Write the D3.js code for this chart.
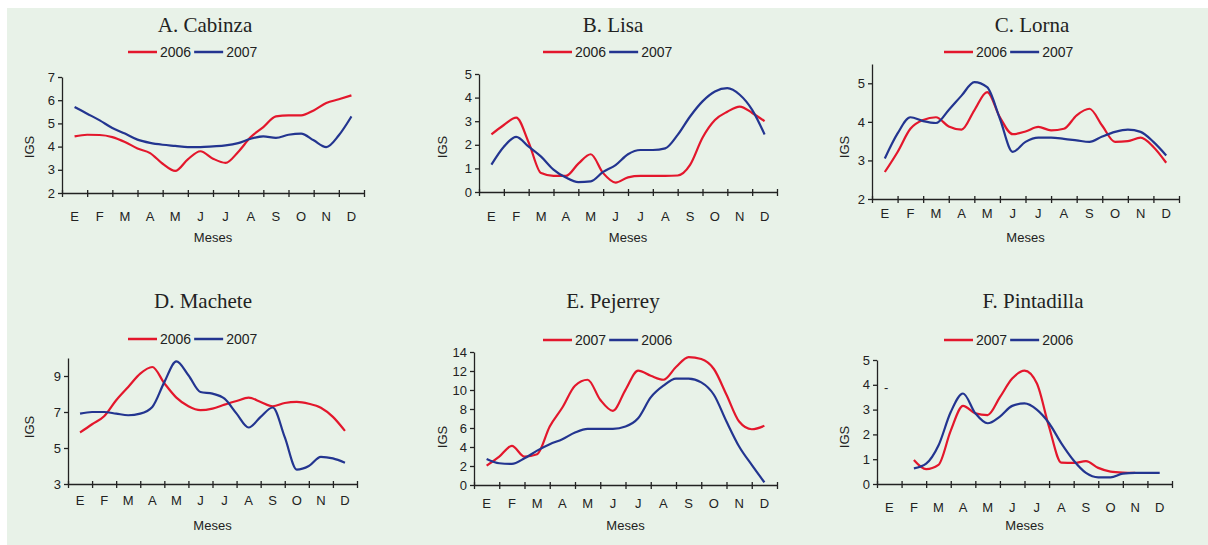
<!DOCTYPE html>
<html>
<head>
<meta charset="utf-8">
<title>IGS mensual por especie</title>
<script src="https://cdnjs.cloudflare.com/ajax/libs/d3/7.8.5/d3.min.js"></script>
<style>
  body { margin: 0; padding: 0; background: #fff; }
  svg { display: block; }
  .tick text { font-family: "Liberation Sans", Arial, sans-serif; font-size: 13px; fill: #222; }
  .domain, .tick line { stroke: #222; stroke-width: 1.3; }
  .ttl { font-family: "Liberation Serif", "DejaVu Serif", serif; font-size: 21px; fill: #222; }
  .lab { font-family: "Liberation Sans", Arial, sans-serif; font-size: 13px; fill: #222; }
  .leg { font-family: "Liberation Sans", Arial, sans-serif; font-size: 14px; fill: #222; }
</style>
</head>
<body>
<script>
// month labels (E..D), series sampled every half month
var months = ["E", "F", "M", "A", "M", "J", "J", "A", "S", "O", "N", "D"];

var cabinza2006 = [4.44, 4.51, 4.5, 4.41, 4.2, 3.92, 3.72, 3.26, 2.95, 3.45, 3.8, 3.48, 3.3, 3.77, 4.41, 4.84, 5.3, 5.35, 5.35, 5.56, 5.88, 6.04, 6.21];
var cabinza2007 = [5.71, 5.42, 5.13, 4.8, 4.56, 4.3, 4.16, 4.08, 4.03, 3.98, 3.98, 4.01, 4.05, 4.15, 4.34, 4.44, 4.38, 4.51, 4.56, 4.27, 3.98, 4.49, 5.3];

var lisa2006 = [2.44, 2.84, 3.15, 2.1, 0.8, 0.68, 0.68, 1.2, 1.6, 0.8, 0.4, 0.62, 0.68, 0.68, 0.68, 0.7, 1.15, 2.3, 3.05, 3.4, 3.62, 3.35, 3.0];
var lisa2007 = [1.16, 1.92, 2.34, 1.92, 1.5, 0.95, 0.61, 0.42, 0.45, 0.85, 1.14, 1.6, 1.78, 1.78, 1.85, 2.42, 3.2, 3.84, 4.26, 4.4, 4.12, 3.48, 2.44];

var lorna2006 = [2.7, 3.22, 3.82, 4.05, 4.12, 3.88, 3.8, 4.3, 4.77, 4.12, 3.68, 3.75, 3.87, 3.78, 3.82, 4.17, 4.34, 3.9, 3.48, 3.5, 3.59, 3.35, 2.94];
var lorna2007 = [3.05, 3.7, 4.12, 4.02, 3.97, 4.31, 4.68, 5.03, 4.9, 4.08, 3.22, 3.48, 3.59, 3.59, 3.56, 3.52, 3.48, 3.62, 3.74, 3.8, 3.74, 3.48, 3.13];

var machete2006 = [5.86, 6.32, 6.76, 7.65, 8.39, 9.13, 9.5, 8.6, 7.8, 7.32, 7.1, 7.19, 7.41, 7.61, 7.8, 7.56, 7.32, 7.5, 7.56, 7.46, 7.24, 6.73, 5.95];
var machete2007 = [6.91, 7.0, 7.0, 6.91, 6.82, 6.91, 7.28, 8.66, 9.81, 9.04, 8.11, 8.02, 7.74, 6.91, 6.14, 6.73, 7.25, 5.6, 3.8, 4.0, 4.51, 4.42, 4.18];

var pejerrey2007 = [2.04, 2.99, 4.12, 2.99, 3.24, 6.16, 8.16, 10.45, 11.08, 8.97, 7.81, 10.02, 12.03, 11.5, 11.08, 12.42, 13.47, 13.26, 12.21, 9.5, 6.68, 5.87, 6.23];
var pejerrey2006 = [2.74, 2.29, 2.22, 2.81, 3.62, 4.29, 4.82, 5.52, 5.91, 5.91, 5.91, 6.16, 7.03, 9.22, 10.45, 11.19, 11.19, 10.8, 9.5, 6.68, 4.05, 2.11, 0.28];

// Pintadilla starts in February (index 1)
var pintadilla2007 = [0.97, 0.6, 0.77, 2.15, 3.15, 2.85, 2.78, 3.5, 4.25, 4.57, 4.06, 2.3, 0.86, 0.85, 0.92, 0.65, 0.5, 0.46, 0.45];
var pintadilla2006 = [0.63, 0.82, 1.55, 2.9, 3.65, 2.85, 2.45, 2.72, 3.15, 3.25, 3.0, 2.45, 1.64, 0.95, 0.45, 0.27, 0.27, 0.42, 0.45, 0.45, 0.45];

var ticksA = [2, 3, 4, 5, 6, 7];
var ticksB = [0, 1, 2, 3, 4, 5];
var ticksC = [2, 3, 4, 5];
var ticksD = [3, 5, 7, 9];
var ticksE = [0, 2, 4, 6, 8, 10, 12, 14];
var ticksF = [0, 1, 2, 3, 4, 5];

var RED = "#e3172c", BLUE = "#233590";

var panels = [
  { title: "A. Cabinza", yDom: [2, 7], yTicks: ticksA,
    series: [{ label: "2006", color: RED, vals: cabinza2006, start: 0 }, { label: "2007", color: BLUE, vals: cabinza2007, start: 0 }],
    left: 62, right: 364, top: 77, bottom: 193, labY: 221, mesY: 242, igsX: 34, igsY: 147, titleX: 205, titleY: 32, legX: 128, legY: 52 },
  { title: "B. Lisa", yDom: [0, 5], yTicks: ticksB,
    series: [{ label: "2006", color: RED, vals: lisa2006, start: 0 }, { label: "2007", color: BLUE, vals: lisa2007, start: 0 }],
    left: 479, right: 777, top: 74, bottom: 192, labY: 221, mesY: 242, igsX: 447, igsY: 147, titleX: 613, titleY: 32, legX: 543, legY: 52 },
  { title: "C. Lorna", yDom: [2, 5.5], yTicks: ticksC,
    series: [{ label: "2006", color: RED, vals: lorna2006, start: 0 }, { label: "2007", color: BLUE, vals: lorna2007, start: 0 }],
    left: 872, right: 1179, top: 64, bottom: 199, labY: 218, mesY: 242, igsX: 849, igsY: 147, titleX: 1032, titleY: 32, legX: 944, legY: 52 },
  { title: "D. Machete", yDom: [3, 10], yTicks: ticksD,
    series: [{ label: "2006", color: RED, vals: machete2006, start: 0 }, { label: "2007", color: BLUE, vals: machete2007, start: 0 }],
    left: 68, right: 357, top: 358, bottom: 484, labY: 505, mesY: 530, igsX: 34, igsY: 427, titleX: 203, titleY: 308, legX: 128, legY: 339 },
  { title: "E. Pejerrey", yDom: [0, 14], yTicks: ticksE,
    series: [{ label: "2007", color: RED, vals: pejerrey2007, start: 0 }, { label: "2006", color: BLUE, vals: pejerrey2006, start: 0 }],
    left: 474, right: 777, top: 352, bottom: 485, labY: 508, mesY: 530, igsX: 447, igsY: 437, titleX: 613, titleY: 308, legX: 543, legY: 340 },
  { title: "F. Pintadilla", yDom: [0, 5], yTicks: ticksF,
    series: [{ label: "2007", color: RED, vals: pintadilla2007, start: 1 }, { label: "2006", color: BLUE, vals: pintadilla2006, start: 1 }],
    left: 877, right: 1172, top: 360, bottom: 484, labY: 512, mesY: 530, igsX: 849, igsY: 437, titleX: 1033, titleY: 308, legX: 944, legY: 340, dash: true }
];

var W = 1208, H = 545;
var svg = d3.select("body").append("svg").attr("width", W).attr("height", H);

svg.append("rect").attr("x", 7).attr("y", 8).attr("width", W - 7).attr("height", H - 8).attr("fill", "#e8f2e8");

panels.forEach(function(p) {
  var g = svg.append("g");

  var x = d3.scaleLinear().domain([-0.5, 11.5]).range([p.left, p.right]);
  var xb = d3.scaleBand().domain(d3.range(12)).range([p.left, p.right]);
  var y = d3.scaleLinear().domain(p.yDom).range([p.bottom, p.top]);

  // y axis
  g.append("g")
    .attr("transform", "translate(" + p.left + ",0)")
    .call(d3.axisLeft(y).tickValues(p.yTicks).tickSizeInner(4).tickSizeOuter(0).tickPadding(3).tickFormat(d3.format("d")));

  // x axis: boundary ticks
  var xa = g.append("g").attr("transform", "translate(0," + p.bottom + ")")
    .call(d3.axisBottom(x).tickValues(d3.range(-0.5, 12, 1)).tickSizeInner(5).tickSizeOuter(0).tickFormat(""));
  xa.selectAll(".tick line").attr("y1", -3).attr("y2", 4);

  // month labels
  g.selectAll("text.m").data(d3.range(12)).enter().append("text")
    .attr("class", "lab")
    .attr("x", function(i) { return xb(i) + xb.bandwidth() / 2; })
    .attr("y", p.labY)
    .attr("text-anchor", "middle")
    .text(function(i) { return months[i]; });

  g.append("text").attr("class", "lab").attr("x", (p.left + p.right) / 2).attr("y", p.mesY)
    .attr("text-anchor", "middle").text("Meses");

  g.append("text").attr("class", "lab")
    .attr("transform", "translate(" + p.igsX + "," + p.igsY + ") rotate(-90)")
    .attr("text-anchor", "middle").text("IGS");

  g.append("text").attr("class", "ttl").attr("x", p.titleX).attr("y", p.titleY)
    .attr("text-anchor", "middle").text(p.title);

  if (p.dash) {
    g.append("text").attr("class", "lab").attr("x", y.range()[1] ? p.left + 7 : 0).attr("y", y(4) + 7).text("-").attr("font-size", 10);
  }

  // lines
  var line = d3.line()
    .x(function(d) { return x(d[0]); })
    .y(function(d) { return y(d[1]); })
    .curve(d3.curveMonotoneX);

  p.series.forEach(function(s) {
    var pts = s.vals.map(function(v, i) { return [s.start + i * 0.5, v]; });
    g.append("path").datum(pts)
      .attr("fill", "none")
      .attr("stroke", s.color)
      .attr("stroke-width", 2.2)
      .attr("stroke-linejoin", "round")
      .attr("d", line);
  });

  // legend
  var lx = p.legX;
  p.series.forEach(function(s) {
    g.append("line").attr("x1", lx).attr("x2", lx + 29).attr("y1", p.legY).attr("y2", p.legY)
      .attr("stroke", s.color).attr("stroke-width", 2.5);
    var t = g.append("text").attr("class", "leg").attr("x", lx + 32).attr("y", p.legY + 5).text(s.label);
    lx += 32 + t.node().getComputedTextLength() + 3;
  });
});
</script>
</body>
</html>
